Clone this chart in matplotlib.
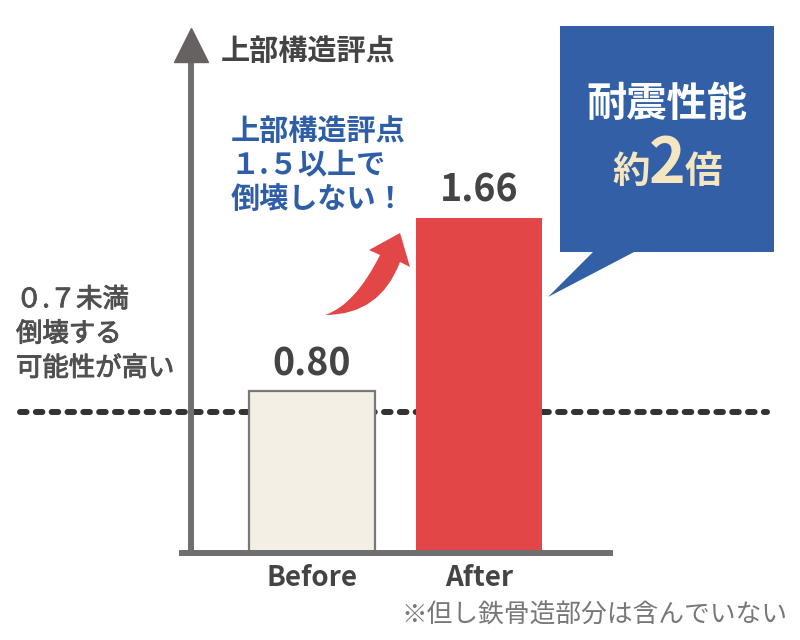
import matplotlib
matplotlib.use("Agg")
import matplotlib.pyplot as plt
import matplotlib.patheffects as pe
from matplotlib.path import Path
from matplotlib.patches import PathPatch, Polygon, Rectangle

plt.rcParams['font.family'] = ['Noto Sans CJK JP', 'DejaVu Sans']

# data
labels = ["Before", "After"]
scores = [0.80, 1.66]
threshold = 0.7
bar_colors = ["#f3efe5", "#e24646"]
edge_colors = ["#777777", "none"]

W, H = 800, 640
fig = plt.figure(figsize=(8, 6.4), dpi=100)


def px(x, y):
    # pixel (top-left origin) -> figure fraction
    return (x / W, 1 - y / H)


# axes: left spine at x=191, bottom at y=553, top at y=62, right at x=610
ax = fig.add_axes([191 / W, (H - 553) / H, (610 - 191) / W, (553 - 62) / H])
xpos = list(range(len(labels)))
ax.set_xlim(-0.72, 1.78)
ax.set_ylim(0, 2.43)

ax.axhline(threshold, xmin=-0.408, xmax=1.375, color="#333333", lw=4.3,
           dashes=(1.1, 1.55), dash_capstyle="round", clip_on=False, zorder=0.5)

ax.bar(xpos, scores, width=0.75, color=bar_colors, edgecolor=edge_colors,
       linewidth=1.6, zorder=1)

# value labels, small gap above bar
for x, v in zip(xpos, scores):
    ax.text(x, v + 0.04, f"{v:.2f}", ha="center", va="bottom", fontsize=27,
            fontweight="bold", color="#444444")

for s in ["top", "right"]:
    ax.spines[s].set_visible(False)
for s in ["left", "bottom"]:
    ax.spines[s].set_color("#6f6f6f")
    ax.spines[s].set_linewidth(4.3)
    ax.spines[s].set_capstyle("projecting")
    ax.spines[s].set_zorder(3)
ax.spines["bottom"].set_bounds(-0.775, 1.78)

ax.set_yticks([])
ax.set_xticks(xpos)
ax.set_xticklabels(labels, fontsize=20, fontweight="bold", color="#444444")
ax.tick_params(axis="x", length=0, pad=8)

# y axis arrowhead
ax.plot([0], [1.0346], marker="^", markersize=24.5, color="#676262",
        transform=ax.transAxes, clip_on=False, zorder=4)

# axis title
fig.text(*px(221, 51), "上部構造評点", fontsize=21, fontweight="bold",
         color="#444444", va="center", ha="left")

# blue note
fig.text(*px(231, 165), "上部構造評点\n１.５以上で\n倒壊しない！", fontsize=21,
         fontweight="bold", color="#2f5ea8", va="center", ha="left",
         linespacing=1.15)

# left note (slightly heavier than regular)
fig.text(*px(16, 334), "０.７未満\n倒壊する\n可能性が高い", fontsize=19,
         color="#505050", va="center", ha="left", linespacing=1.35,
         path_effects=[pe.withStroke(linewidth=0.7, foreground="#505050")])

# red curved arrow
verts = [px(325, 315), px(380, 315), px(400, 262), px(410, 267), px(400, 233),
         px(369, 250), px(380, 255), px(355, 305), px(325, 315), px(325, 315)]
codes = [Path.MOVETO, Path.CURVE3, Path.CURVE3, Path.LINETO, Path.LINETO,
         Path.LINETO, Path.LINETO, Path.CURVE3, Path.CURVE3, Path.CLOSEPOLY]
fig.patches.append(PathPatch(Path(verts, codes), facecolor="#e24646",
                             edgecolor="none", transform=fig.transFigure))

# speech bubble
box_color = "#335fa6"
x0, y0 = px(560, 252)
x1, y1 = px(774, 26)
fig.patches.append(Rectangle((x0, y0), x1 - x0, y1 - y0, facecolor=box_color,
                             edgecolor="none", transform=fig.transFigure))
fig.patches.append(Polygon([px(594, 251), px(636, 251), px(548, 297)],
                           closed=True, facecolor=box_color, edgecolor="none",
                           transform=fig.transFigure))
fig.text(*px(667, 104), "耐震性能", fontsize=29, fontweight="bold",
         color="white", ha="center", va="center")
cream = "#f4e6c1"
fig.text(*px(650, 183), "約", fontsize=27, fontweight="bold", color=cream,
         ha="right", va="baseline")
fig.text(*px(667, 183), "2", fontsize=45, fontweight="bold", color=cream,
         ha="center", va="baseline")
fig.text(*px(685, 183), "倍", fontsize=27, fontweight="bold", color=cream,
         ha="left", va="baseline")

# footnote
fig.text(*px(401, 616), "※但し鉄骨造部分は含んでいない", fontsize=18.5,
         color="#777777", ha="left", va="center")

fig.savefig("out.png", dpi=100)
